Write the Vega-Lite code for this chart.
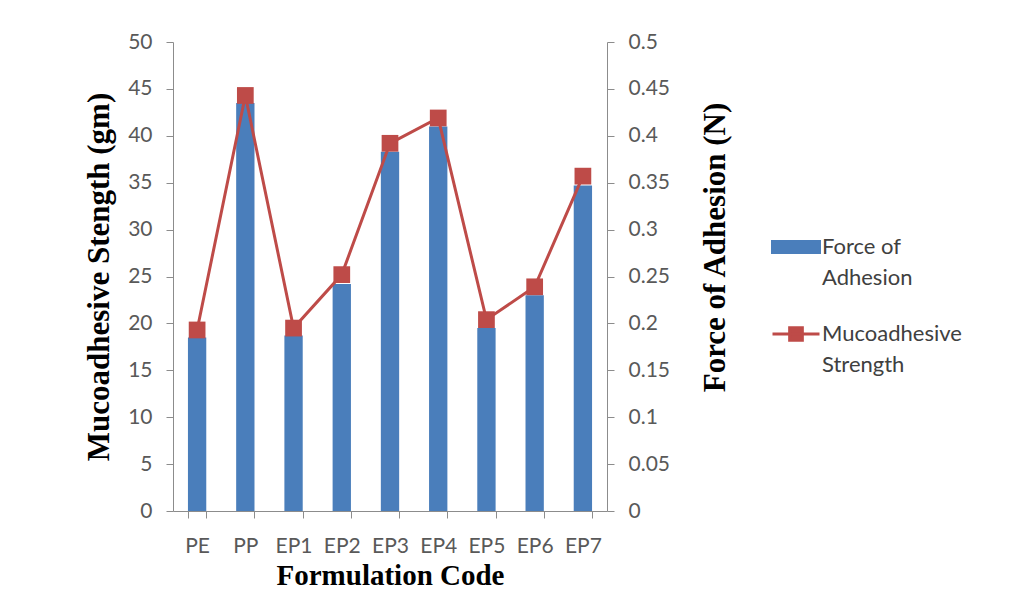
{
  "$schema": "https://vega.github.io/schema/vega-lite/v6.json",
  "width": 434,
  "height": 469,
  "autosize": "none",
  "padding": {"left": 173, "top": 42, "right": 403, "bottom": 80},
  "background": "white",
  "config": {
    "view": {"stroke": null},
    "axis": {
      "grid": false,
      "domainColor": "#8c8c8c",
      "tickColor": "#8c8c8c",
      "labelColor": "#595959",
      "labelFont": "Lato",
      "labelFontSize": 21,
      "titleFont": "Liberation Serif",
      "titleFontWeight": "bold",
      "titleColor": "#000000",
      "tickSize": 7
    }
  },
  "data": {
    "values": [
      {"code": "PE", "force": 0.185, "strength": 19.3},
      {"code": "PP", "force": 0.435, "strength": 44.3},
      {"code": "EP1", "force": 0.187, "strength": 19.5},
      {"code": "EP2", "force": 0.242, "strength": 25.2},
      {"code": "EP3", "force": 0.383, "strength": 39.2},
      {"code": "EP4", "force": 0.41, "strength": 41.9},
      {"code": "EP5", "force": 0.195, "strength": 20.4},
      {"code": "EP6", "force": 0.23, "strength": 23.9},
      {"code": "EP7", "force": 0.347, "strength": 35.7}
    ]
  },
  "encoding": {
    "x": {
      "field": "code",
      "type": "nominal",
      "sort": null,
      "scale": {"paddingInner": 0.62, "paddingOuter": 0.31},
      "axis": {
        "title": "Formulation Code",
        "titleFontSize": 29,
        "labelAngle": 0,
        "tickBand": "extent",
        "labelPadding": 17,
        "titlePadding": 5
      }
    }
  },
  "layer": [
    {
      "mark": {"type": "bar"},
      "encoding": {
        "y": {
          "field": "force",
          "type": "quantitative",
          "scale": {"domain": [0, 0.5]},
          "axis": {
            "orient": "right",
            "title": "Force of Adhesion (N)",
            "titleFontSize": 31,
            "titleAngle": 270,
            "titleBaseline": "top",
            "titleY": 205,
            "format": ".2~f",
            "values": [0, 0.05, 0.1, 0.15, 0.2, 0.25, 0.3, 0.35, 0.4, 0.45, 0.5],
            "labelPadding": 14,
            "titlePadding": 31
          }
        },
        "color": {
          "datum": "Force of Adhesion",
          "scale": {
            "domain": ["Force of Adhesion", "Mucoadhesive Strength"],
            "range": ["#4A7EBB", "#BE4B48"]
          },
          "legend": {
            "title": null,
            "orient": "none",
            "legendX": 598,
            "legendY": 180,
            "labelFont": "Lato",
            "labelFontSize": 22,
            "labelColor": "#404040",
            "labelBaseline": "top",
            "labelOffset": 1,
            "rowPadding": 20,
            "labelExpr": "datum.value === 'Force of Adhesion' ? ['Force of', 'Adhesion'] : ['Mucoadhesive', 'Strength']",
            "encode": {
              "symbols": {
                "update": {
                  "shape": {"signal": "datum.value === 'Force of Adhesion' ? 'M-1,-0.23H1V0.23H-1Z' : 'M-1,0H1M-0.27,-0.27H0.27V0.27H-0.27Z'"},
                  "size": {"value": 2209},
                  "fill": {"signal": "datum.value === 'Force of Adhesion' ? '#4A7EBB' : '#BE4B48'"},
                  "stroke": {"signal": "datum.value === 'Force of Adhesion' ? '#4A7EBB' : '#BE4B48'"},
                  "strokeWidth": {"value": 3},
                  "opacity": {"value": 1},
                  "fillOpacity": {"value": 1}
                }
              },
              "labels": {"update": {"dy": {"value": -10}, "lineHeight": {"value": 31}}}
            }
          }
        }
      }
    },
    {
      "mark": {
        "type": "line",
        "strokeWidth": 3,
        "point": {"shape": "square", "size": 280, "filled": true, "opacity": 1}
      },
      "encoding": {
        "y": {
          "field": "strength",
          "type": "quantitative",
          "scale": {"domain": [0, 50]},
          "axis": {
            "orient": "left",
            "title": "Mucoadhesive Stength (gm)",
            "titleFontSize": 31,
            "values": [0, 5, 10, 15, 20, 25, 30, 35, 40, 45, 50],
            "labelPadding": 14,
            "titlePadding": 12
          }
        },
        "color": {"datum": "Mucoadhesive Strength"}
      }
    }
  ],
  "resolve": {"scale": {"y": "independent"}}
}
